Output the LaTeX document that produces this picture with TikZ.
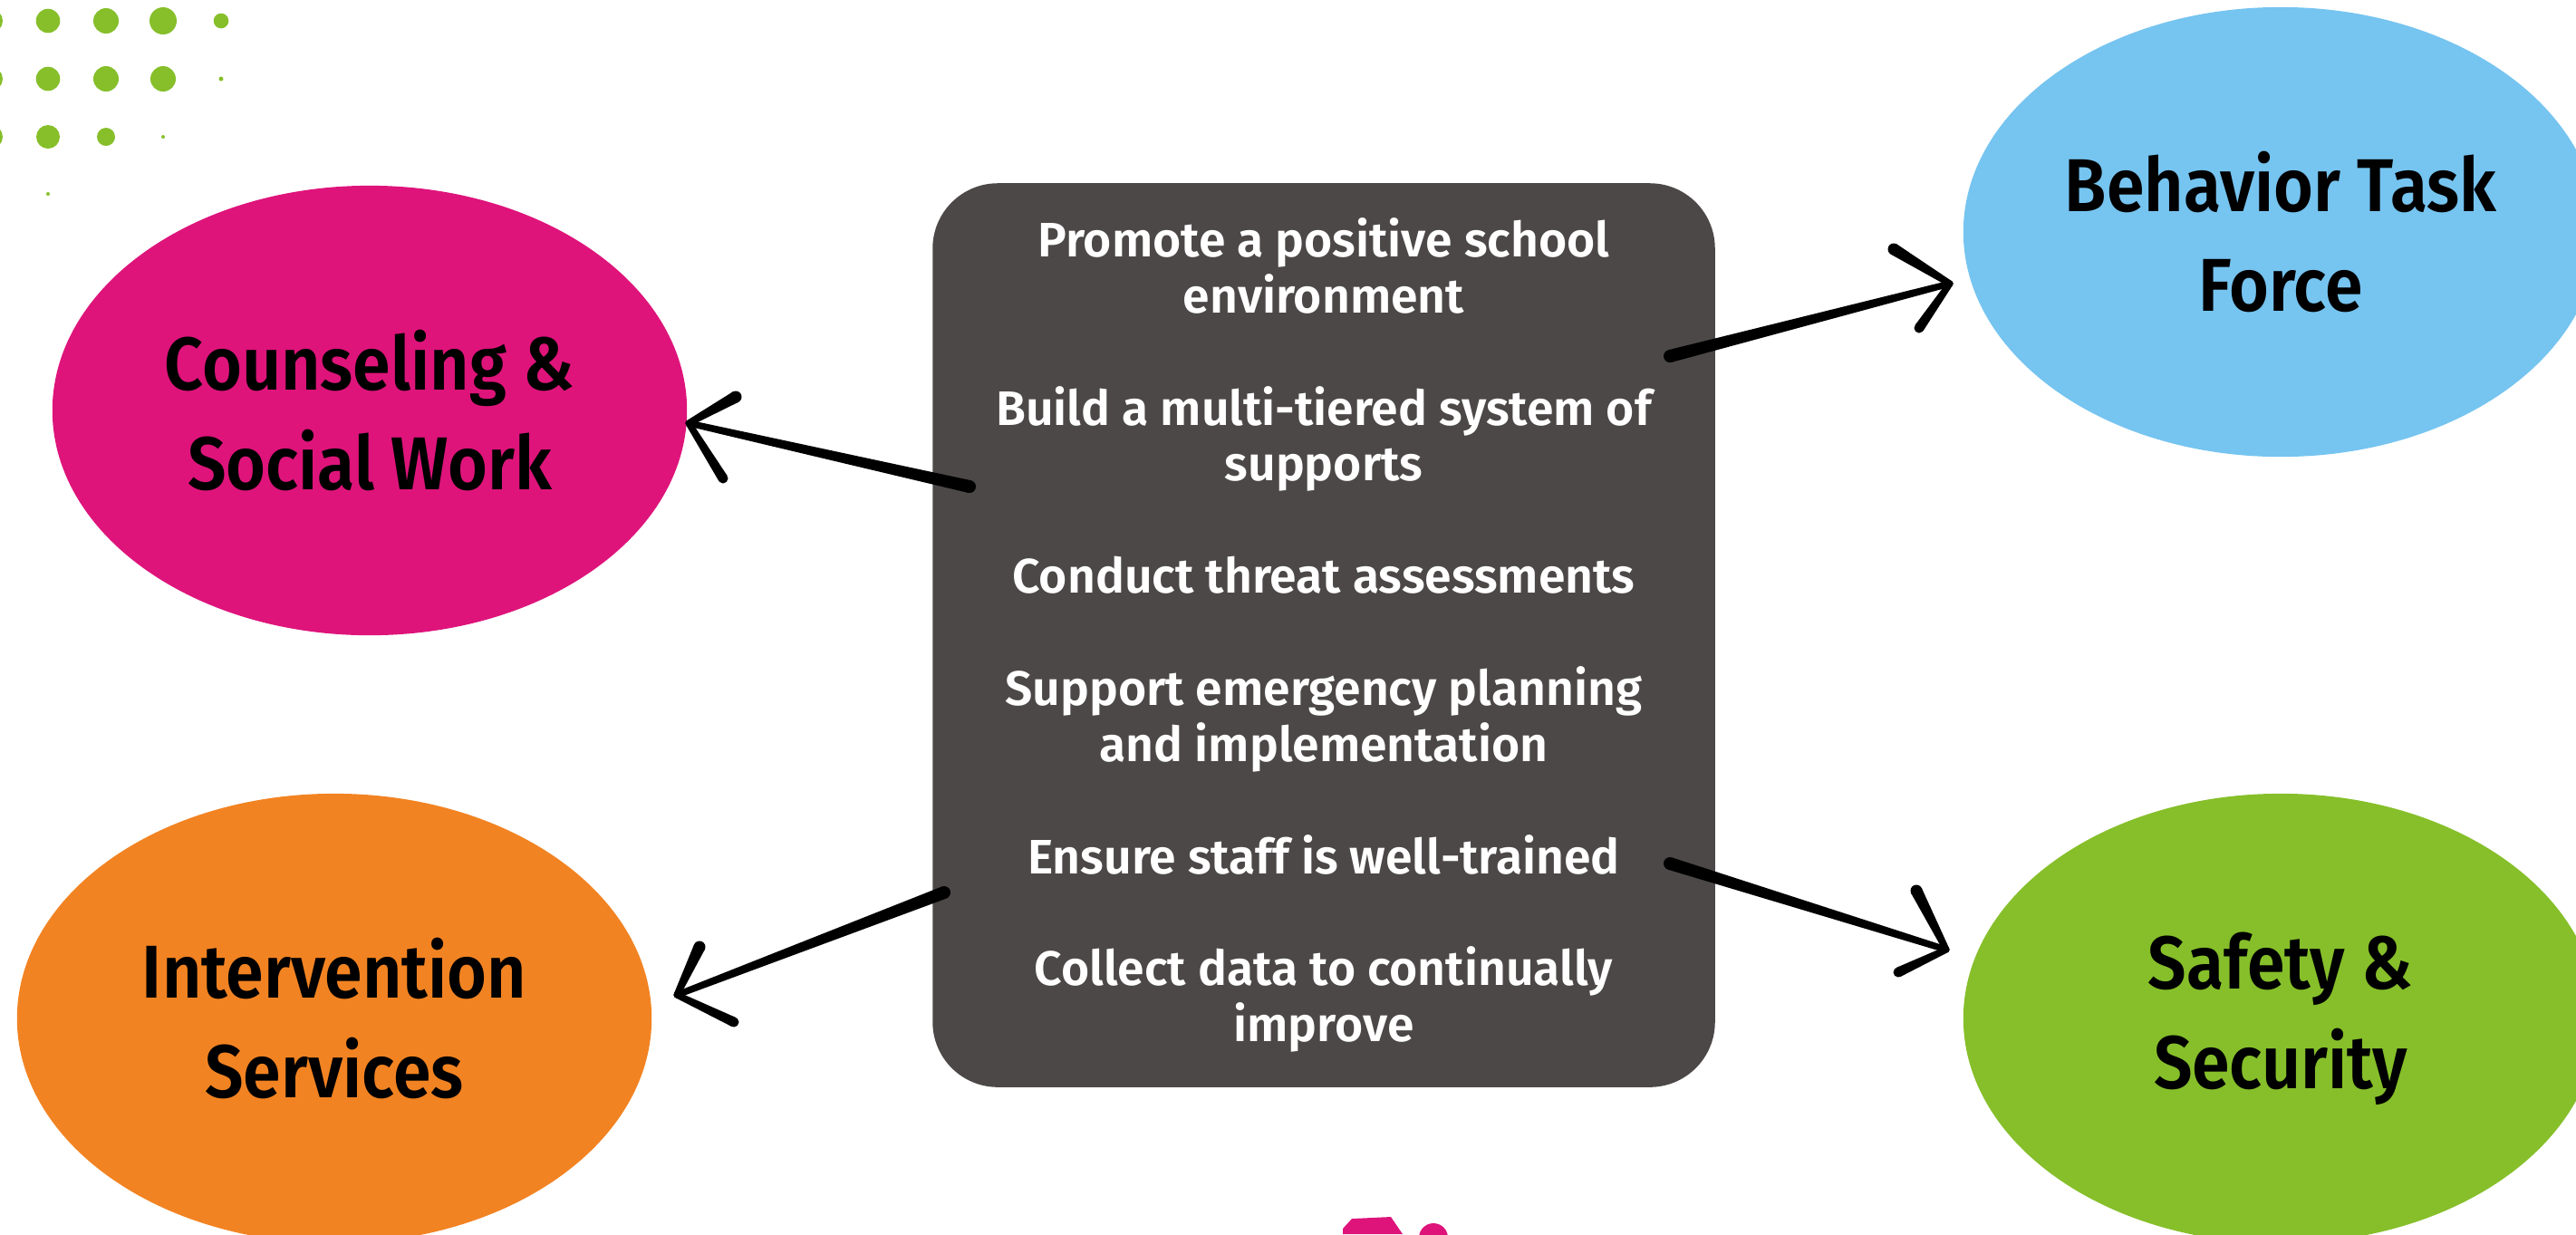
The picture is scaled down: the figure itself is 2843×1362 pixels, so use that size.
\documentclass[tikz,border=0pt]{standalone}
\usepackage{fontspec}
\setmainfont{Fira Sans}[BoldFont={Fira Sans SemiBold}]
\newfontfamily\teamfont{Fira Sans}[BoldFont={Fira Sans SemiBold},FakeStretch=0.91]
\usepackage{xcolor}
\definecolor{hpink}{RGB}{222,20,123}
\definecolor{hblue}{RGB}{118,196,240}
\definecolor{horange}{RGB}{242,131,34}
\definecolor{hgreen}{RGB}{134,191,42}
\definecolor{hdark}{RGB}{76,72,71}
\usetikzlibrary{shapes.geometric,calc}
\tikzset{
  team/.style={ellipse,inner sep=0pt,minimum width=7cm,minimum height=4.96cm,align=center,
    font={\teamfont\fontsize{23.5}{31.3}\selectfont\bfseries}},
  taskbox/.style={fill=hdark,rounded corners=0.72cm,minimum width=8.63cm,minimum height=9.97cm,
    align=center,text=white,font={\fontsize{15.2}{17.6}\selectfont\bfseries}}
}
\newcommand{\brush}[4]{\fill ($(#1)!#3!90:(#2)$) -- ($(#2)!#4!-90:(#1)$) -- ($(#2)!#4!90:(#1)$)
  -- ($(#1)!#3!-90:(#2)$) -- cycle; \fill (#1) circle[radius=#3]; \fill (#2) circle[radius=#4];}
\newcommand{\scrawl}[4]{\brush{#1}{#2}{0.7mm}{0.35mm}\brush{#3}{#2}{0.65mm}{0.35mm}\brush{#4}{#2}{0.55mm}{0.35mm}}

\begin{document}
\begin{tikzpicture}[x=0.01cm,y=-0.01cm]
  \useasboundingbox (0,0) rectangle (2843,1362);
  \clip (0,0) rectangle (2843,1362);
  \foreach \dx/\dy/\dr in {-10/23/13,53/23/13.3,117/23/14,180/23/15,244/23/8.3,
      -10/87/13,53/87/13.3,117/87/14,180/87/14,244/87/2.5,
      -10/151/13,53/151/13,117/151/10,180/151/2,53/214/2}
    \fill[hgreen] (\dx,\dy) circle[radius=\dr];
  \node[team,fill=hpink] (couns) at (408,453) {Counseling \&\\Social Work};
  \node[team,fill=hblue] (behav) at (2517,256) {Behavior Task\\Force};
  \node[team,fill=horange] (interv) at (369,1124) {Intervention\\Services};
  \node[team,fill=hgreen] (safety) at (2517,1124) {Safety \&\\Security};
  \node[taskbox] (tasks) at (1461,701) {Promote a positive school\\environment\\[17.6pt]
    Build a multi-tiered system of\\supports\\[17.6pt]
    Conduct threat assessments\\[17.6pt]
    Support emergency planning\\and implementation\\[17.6pt]
    Ensure staff is well-trained\\[17.6pt]
    Collect data to continually\\improve};
  \coordinate (t1) at (1070,537);
  \coordinate (h1) at (760,467);
  \coordinate (h1a) at (812,438);
  \coordinate (h1b) at (798,528);
  \coordinate (t2) at (1843,393);
  \coordinate (h2) at (2152,313);
  \coordinate (h2a) at (2090,275);
  \coordinate (h2b) at (2118,362);
  \coordinate (t3) at (1042,985);
  \coordinate (h3) at (747,1098);
  \coordinate (h3a) at (772,1045);
  \coordinate (h3b) at (810,1128);
  \coordinate (t4) at (1843,953);
  \coordinate (h4) at (2148,1048);
  \coordinate (h4a) at (2115,983);
  \coordinate (h4b) at (2095,1073);
  \scrawl{t1}{h1}{h1a}{h1b}
  \scrawl{t2}{h2}{h2a}{h2b}
  \scrawl{t3}{h3}{h3a}{h3b}
  \scrawl{t4}{h4}{h4a}{h4b}
  \fill[hpink] (1482,1362) -- (1482,1356) -- (1492,1345) -- (1535,1343) -- (1548,1362) -- cycle;
  \fill[hpink] (1582,1366) circle[radius=16];
\end{tikzpicture}
\end{document}
